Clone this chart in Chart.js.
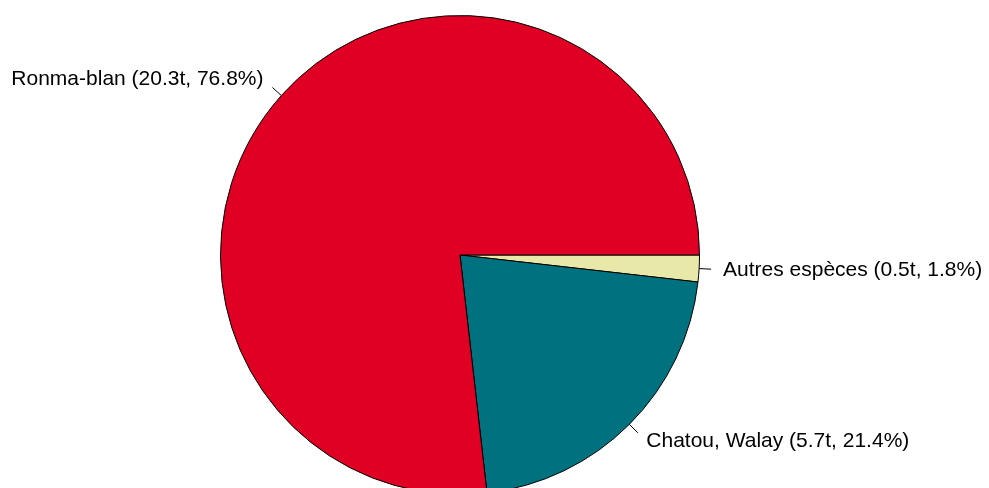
<!DOCTYPE html>
<html>
<head>
<meta charset="utf-8">
<script src="https://cdn.jsdelivr.net/npm/chart.js@4"></script>
<style>
html,body{margin:0;padding:0;background:#fff;overflow:hidden;}
#wrap{width:989px;height:495px;position:relative;}
</style>
</head>
<body>
<div id="wrap"><canvas id="c"></canvas></div>
<script>
// Data (order reversed so Chart.js clockwise drawing mimics R's counter-clockwise pie)
const categories = ["Autres espèces", "Chatou, Walay", "Ronma-blan"];
const tonnes = [0.5, 5.7, 20.3];
const percents = [1.8, 21.4, 76.8];
const colors = ["#E8E8A8", "#00727F", "#DF0024"];

const labels = categories.map((c, i) => `${c} (${tonnes[i]}t, ${percents[i]}%)`);

const outerLabels = {
  id: 'outerLabels',
  afterDatasetsDraw(chart) {
    const ctx = chart.ctx;
    const meta = chart.getDatasetMeta(0);
    ctx.save();
    ctx.font = '21px "Liberation Sans", Arial, sans-serif';
    ctx.fillStyle = '#000';
    ctx.strokeStyle = '#000';
    ctx.lineWidth = 1;
    ctx.textBaseline = 'middle';
    meta.data.forEach((arc, i) => {
      const p = arc.getProps(['x', 'y', 'startAngle', 'endAngle', 'outerRadius'], true);
      const a = (p.startAngle + p.endAngle) / 2;
      const r = p.outerRadius;
      const c = Math.cos(a), s = Math.sin(a);
      ctx.beginPath();
      ctx.moveTo(p.x + c * r, p.y + s * r);
      ctx.lineTo(p.x + c * r * 1.05, p.y + s * r * 1.05);
      ctx.stroke();
      ctx.textAlign = c >= 0 ? 'left' : 'right';
      ctx.fillText(chart.data.labels[i], p.x + c * r * 1.1, p.y + s * r * 1.1);
    });
    ctx.restore();
  }
};

new Chart(document.getElementById('c'), {
  type: 'pie',
  data: {
    labels: labels,
    datasets: [{
      data: percents,
      backgroundColor: colors,
      borderColor: '#000',
      borderWidth: 1,
      borderJoinStyle: 'miter'
    }]
  },
  options: {
    responsive: true,
    maintainAspectRatio: false,
    animation: false,
    rotation: 90,
    layout: { padding: { left: 220, right: 289, top: 15, bottom: 0 } },
    plugins: { legend: { display: false }, tooltip: { enabled: false } }
  },
  plugins: [outerLabels]
});
</script>
</body>
</html>
